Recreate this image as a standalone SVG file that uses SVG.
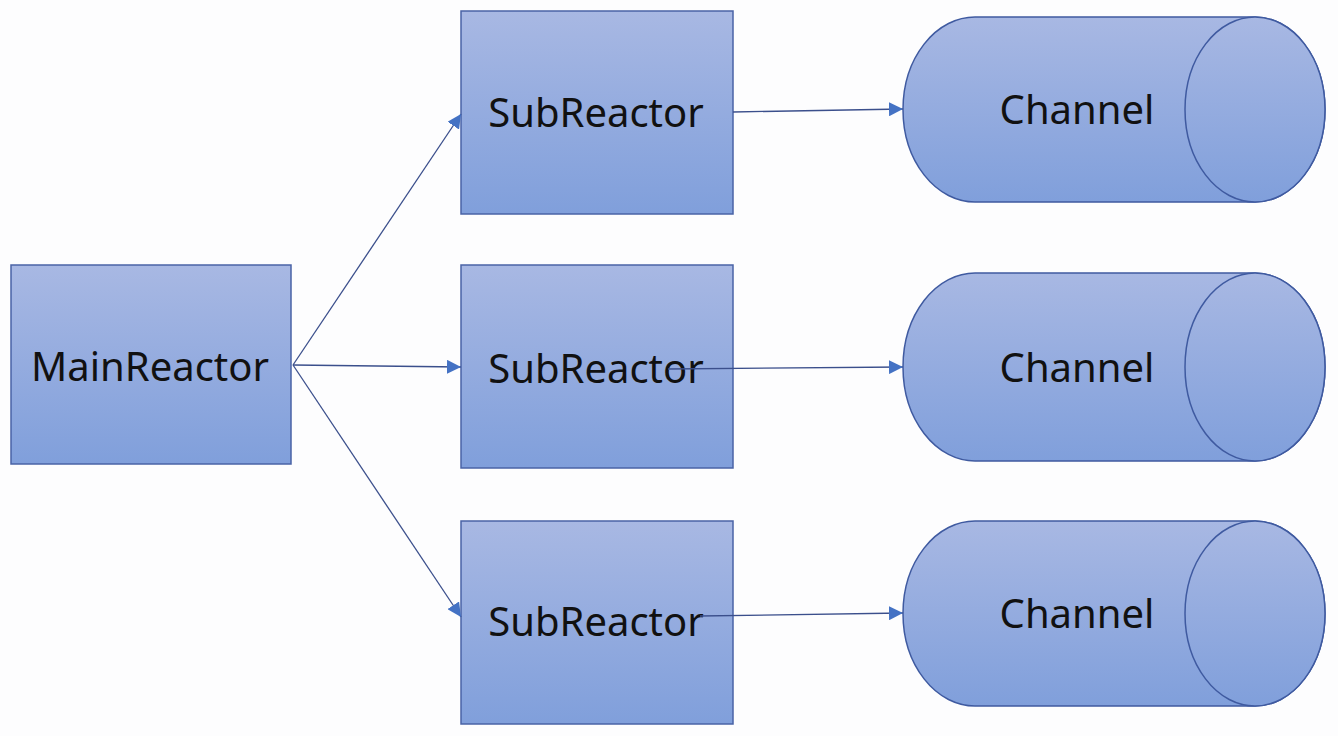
<svg xmlns="http://www.w3.org/2000/svg" width="1338" height="736" viewBox="0 0 1338 736">
<defs>
<linearGradient id="g" x1="0" y1="0" x2="0" y2="1">
<stop offset="0" stop-color="#a8b8e3"/>
<stop offset="1" stop-color="#809fdb"/>
</linearGradient>
<marker id="arr" viewBox="0 0 10 10" refX="10" refY="5" markerWidth="14" markerHeight="14" markerUnits="userSpaceOnUse" orient="auto">
<path d="M0,0 L10,5 L0,10 z" fill="#4472c4"/>
</marker>
<style>
.box{fill:url(#g);stroke:#4a63a6;stroke-width:1.5}
.cyl{fill:url(#g);stroke:#3f5aa0;stroke-width:1.5}
.t{font-family:"Noto Sans","Open Sans",sans-serif;font-size:40px;fill:#111;text-anchor:middle}
.c{stroke:#3b4f8c;stroke-width:1.3;fill:none;marker-end:url(#arr)}
</style>
</defs>
<rect width="1338" height="736" fill="#fdfdfe"/>
<g id="main"><rect class="box" x="11" y="265" width="280" height="199"/><text class="t" x="150" y="381">MainReactor</text></g>
<g id="sub1"><rect class="box" x="461" y="11" width="272" height="203"/><text class="t" x="596" y="127">SubReactor</text></g>
<g id="sub2"><rect class="box" x="461" y="265" width="272" height="203"/><text class="t" x="596" y="383">SubReactor</text></g>
<g id="sub3"><rect class="box" x="461" y="521" width="272" height="203"/><text class="t" x="596" y="636">SubReactor</text></g>
<g id="ch1"><path class="cyl" d="M975,17 H1255 A70,92.5 0 0 1 1255,202 H975 A72,92.5 0 0 1 975,17 z"/><ellipse class="cyl" cx="1255" cy="109.5" rx="70" ry="92.5"/><text class="t" x="1077" y="124">Channel</text></g>
<g id="ch2"><path class="cyl" d="M975,273 H1255 A70,94 0 0 1 1255,461 H975 A72,94 0 0 1 975,273 z"/><ellipse class="cyl" cx="1255" cy="367" rx="70" ry="94"/><text class="t" x="1077" y="382">Channel</text></g>
<g id="ch3"><path class="cyl" d="M975,521 H1255 A70,92.5 0 0 1 1255,706 H975 A72,92.5 0 0 1 975,521 z"/><ellipse class="cyl" cx="1255" cy="613.5" rx="70" ry="92.5"/><text class="t" x="1077" y="628">Channel</text></g>
<g id="connectors">
<line class="c" x1="293" y1="365" x2="461" y2="114"/>
<line class="c" x1="293" y1="365" x2="461" y2="367"/>
<line class="c" x1="293" y1="365" x2="461" y2="617"/>
<line class="c" x1="733" y1="112" x2="903" y2="109"/>
<line class="c" x1="668" y1="369" x2="903" y2="367"/>
<line class="c" x1="700" y1="616" x2="903" y2="613"/>
</g>
</svg>
